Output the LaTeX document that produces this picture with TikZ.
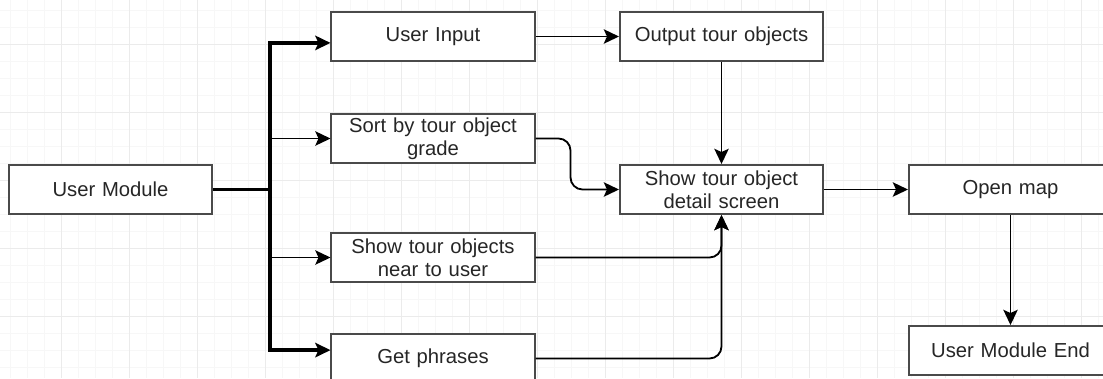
\documentclass[tikz,border=0pt]{standalone}
\usepackage{fontspec}
\setmainfont{Liberation Sans}
\usetikzlibrary{arrows.meta}
\definecolor{gridminor}{HTML}{F7F7F7}
\definecolor{gridmajor}{HTML}{EBEBEB}
\definecolor{boxline}{HTML}{4A4A4A}
\tikzset{
  box/.style={draw=boxline, line width=1.4pt, fill=white, minimum width=5.075cm,
    minimum height=1.225cm, text width=4.8cm, align=center, inner sep=0pt,
    text=black!85, font=\fontsize{14.4}{16.4}\selectfont},
  flow/.style={draw=black, line width=1.3pt,
    -{Stealth[length=0.38cm, width=0.36cm, inset=0.08cm]}},
  trunk/.style={flow, line width=2.6pt}
}
\begin{document}
\begin{tikzpicture}[x=0.025cm, y=-0.025cm]
      \fill[white] (0,0) rectangle (1103,378);
      \useasboundingbox (0,0) rectangle (1103,378);
      % background grid
      \foreach \i in {0,...,64} \draw[gridminor, line width=0.5pt] (10+17*\i,0) -- (10+17*\i,378);
      \foreach \j in {0,...,21} \draw[gridminor, line width=0.5pt] (0,10+17*\j) -- (1103,10+17*\j);
      \foreach \i in {0,...,15} \draw[gridmajor, line width=0.7pt] (61+68*\i,0) -- (61+68*\i,378);
      \foreach \j in {0,...,4} \draw[gridmajor, line width=0.7pt] (0,44+68*\j) -- (1103,44+68*\j);
      \draw
        (110.5,189.5) node[box] (um){User Module}
        (433,36.5) node[box] (ui){User Input}
        (721.5,36.5) node[box] (out){Output tour objects}
        (433,138.5) node[box] (sort){Sort by tour object\\grade}
        (721.5,189.5) node[box] (detail){Show tour object\\detail screen}
        (433,257.5) node[box] (near){Show tour objects\\near to user}
        (433,358.5) node[box] (phr){Get phrases}
        (1010.5,189.5) node[box] (map){Open map}
        (1010.5,350.5) node[box] (umend){User Module End};
      \coordinate (split) at (270,189.5);
      \begin{scope}[flow]
        \draw[trunk] (um.east) -- (split) |- ([yshift=-0.16cm]ui.west);
        \draw[trunk] (um.east) -- (split) |- ([yshift=0.21cm]phr.west);
        \draw (split |- sort.west) to (sort.west);
        \draw (split |- near.west) to (near.west);
        \draw (ui) to (out);
        \draw (out) to (detail);
        \draw[rounded corners=0.3cm] (sort.east) -- ++(35,0) |- (detail.west);
        \draw[rounded corners=0.3cm] (near.east) -| (detail.south);
        \draw[rounded corners=0.3cm] (phr.east) -| (detail.south);
        \draw (detail) to (map);
        \draw (map) to (umend);
      \end{scope}
    \end{tikzpicture}
\end{document}
